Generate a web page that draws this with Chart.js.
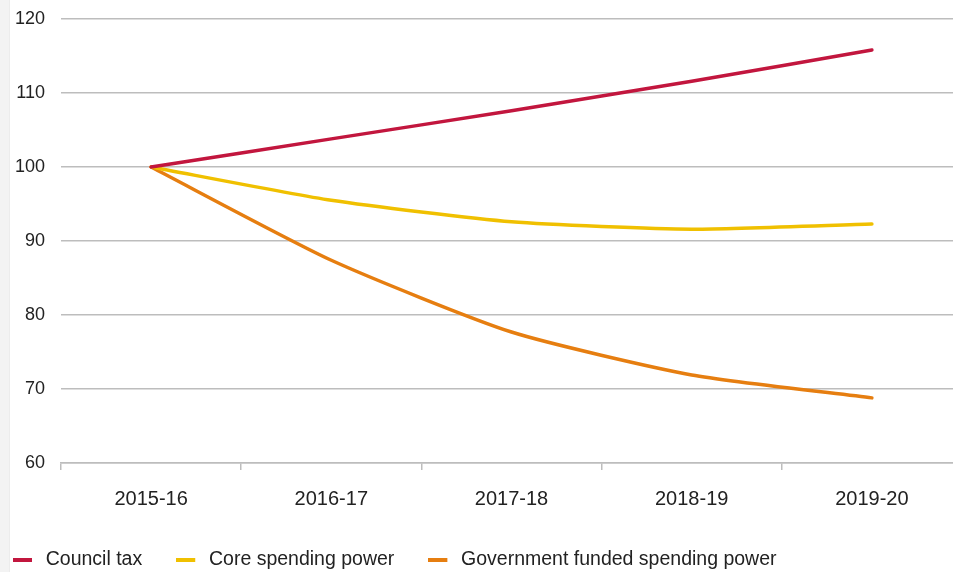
<!DOCTYPE html>
<html>
<head>
<meta charset="utf-8">
<script src="https://cdn.jsdelivr.net/npm/chart.js@4/dist/chart.umd.min.js"></script>
<style>
  html, body { margin: 0; padding: 0; background: #fff; overflow: hidden; }
  #wrap { position: relative; width: 953px; height: 572px; overflow: hidden; }
  #strip { position: absolute; left: 0; top: 0; width: 9px; height: 572px; background: #f3f3f3; border-right: 1px solid #ececec; }
  canvas { position: absolute; left: 0; top: 0; }
</style>
</head>
<body>
<div id="wrap">
  <div id="strip"></div>
  <canvas id="chart" width="962" height="572"></canvas>
</div>
<script>
// --- Data ---
const years = ["2015-16", "2016-17", "2017-18", "2018-19", "2019-20"];
const councilTax = [100, 103.8, 107.6, 111.6, 115.8];
const coreSpending = [100, 95.5, 92.6, 91.6, 92.3];
const govFunded = [100, 87.4, 77.7, 71.9, 68.8];
const yTicks = [60, 70, 80, 90, 100, 110, 120];

// --- Style ---
const FONT = "'Liberation Sans', Arial, sans-serif";
const GRID = "#bdbdbd";
const TEXT = "#222";

// short dash used as the legend marker (drawn at the left of a wider box)
function legendMarker(color) {
    const c = document.createElement("canvas");
    c.width = 23;
    c.height = 4;
    const g = c.getContext("2d");
    g.fillStyle = color;
    g.fillRect(0, 0, 19, 4);
    return c;
}

function series(label, data, color) {
    return {
        label: label,
        data: data,
        borderColor: color,
        backgroundColor: color,
        borderWidth: 3.5,
        pointRadius: 0,
        tension: 0.2,
        borderCapStyle: "round",
        borderJoinStyle: "round",
        fill: false
    };
}

new Chart(document.getElementById("chart"), {
    type: "line",
    data: {
        labels: years,
        datasets: [
            series("Council tax", councilTax, "#c2163e"),
            series("Core spending power", coreSpending, "#f0c000"),
            series("Government funded spending power", govFunded, "#e67e10")
        ]
    },
    options: {
        responsive: false,
        animation: false,
        layout: { padding: { left: -21, right: 0, top: 19, bottom: -7.75 } },
        plugins: {
            tooltip: { enabled: false },
            legend: {
                position: "bottom",
                align: "start",
                labels: {
                    font: { family: FONT, size: 19.5 },
                    color: TEXT,
                    usePointStyle: true,
                    pointStyleWidth: 23,
                    padding: 34,
                    generateLabels: function (chart) {
                        return Chart.defaults.plugins.legend.labels.generateLabels(chart).map(function (item, i) {
                            item.pointStyle = legendMarker(chart.data.datasets[i].borderColor);
                            item.lineWidth = 0;
                            return item;
                        });
                    }
                }
            }
        },
        scales: {
            x: {
                offset: true,
                grid: { drawOnChartArea: false, offset: true, color: GRID, lineWidth: 1.5, tickLength: 7 },
                border: { display: true, color: GRID, width: 1.5 },
                ticks: { font: { family: FONT, size: 20 }, color: TEXT, padding: 17, maxRotation: 0 },
                afterFit: function (scale) { scale.height = 53.25; }
            },
            y: {
                min: 60,
                max: 120,
                afterBuildTicks: function (scale) {
                    scale.ticks = yTicks.map(function (v) { return { value: v }; });
                },
                grid: { color: GRID, lineWidth: 1.5, drawTicks: true, tickLength: 16, tickColor: "rgba(0,0,0,0)" },
                border: { display: false },
                ticks: { font: { family: FONT, size: 18 }, color: TEXT, padding: 0 },
                afterFit: function (scale) { scale.width = 82; }
            }
        }
    }
});
</script>
</body>
</html>
